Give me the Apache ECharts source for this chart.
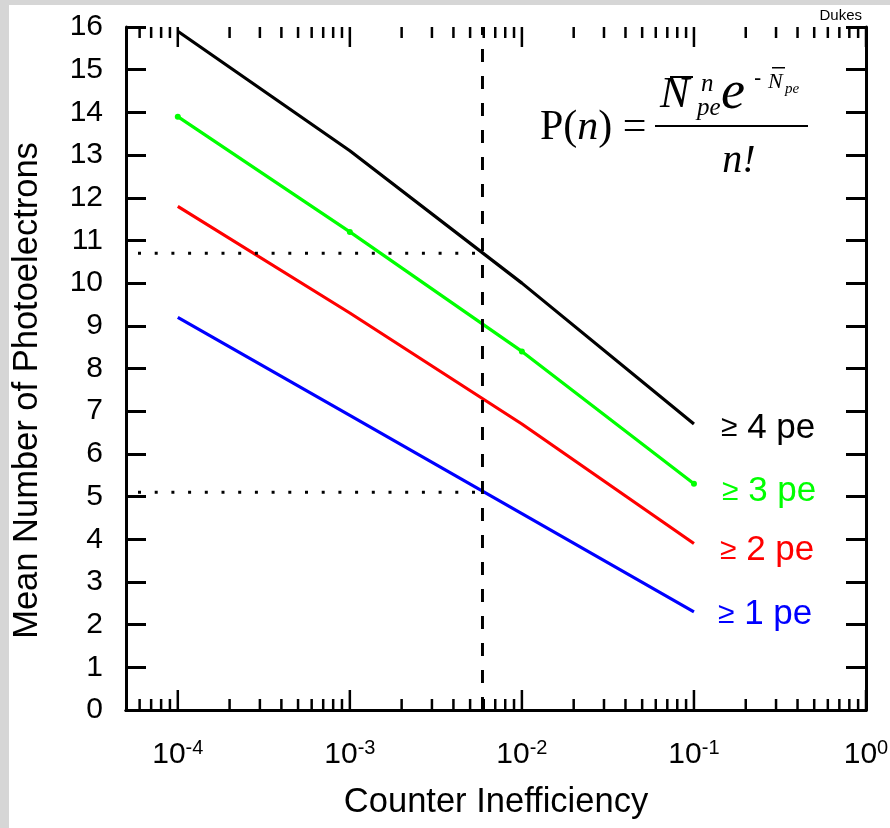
<!DOCTYPE html>
<html><head><meta charset="utf-8">
<script src="https://cdn.jsdelivr.net/npm/echarts@6/dist/echarts.min.js"></script>
<style>
html,body{margin:0;padding:0;background:#d6d6d6;width:890px;height:828px;overflow:hidden}
#c{position:absolute;left:9px;top:5px;width:881px;height:823px;background:#fff}
</style></head><body><div id="c"></div>
<script>
// ---- data ----
const xMin = 5.0e-5;
const xMax = 1;
const xTickValues = [1e-4, 1e-3, 1e-2, 1e-1, 1];
const xTickExponents = ['-4', '-3', '-2', '-1', '0'];
const xMinorTicks = [6e-5, 7e-5, 8e-5, 9e-5,
  2e-4, 3e-4, 4e-4, 5e-4, 6e-4, 7e-4, 8e-4, 9e-4,
  2e-3, 3e-3, 4e-3, 5e-3, 6e-3, 7e-3, 8e-3, 9e-3,
  2e-2, 3e-2, 4e-2, 5e-2, 6e-2, 7e-2, 8e-2, 9e-2,
  2e-1, 3e-1, 4e-1, 5e-1, 6e-1, 7e-1, 8e-1, 9e-1];
const yMin = 0, yMax = 16, yStep = 1;
const inefficiency = [1e-4, 1e-3, 1e-2, 1e-1];
const pe4 = [15.9, 13.1, 10.0, 6.7];
const pe3 = [13.9, 11.2, 8.4, 5.3];
const pe2 = [11.8, 9.3, 6.7, 3.9];
const pe1 = [9.2, 6.9, 4.6, 2.3];
const seriesLabels = ['4 pe', '3 pe', '2 pe', '1 pe'];
const cutInefficiency = 0.0059;
const cutLevel4 = 10.7;
const cutLevel1 = 5.1;

const OX = 9, OY = 5; // chart panel offset in page
const sans = 'Liberation Sans, Arial, sans-serif';
const serif = 'Liberation Serif, Times New Roman, serif';

function pairs(xs, ys) { return xs.map((x, i) => [x, ys[i]]); }

const chart = echarts.init(document.getElementById('c'), null, {renderer: 'canvas'});

const axisLineStyle = {color: '#000', width: 3};

function expLabel(v) {
  let idx = 0, best = 1e9;
  xTickValues.forEach((t, i) => { const d = Math.abs(Math.log10(t) - Math.log10(v)); if (d < best) { best = d; idx = i; } });
  return '{b|10}{s|' + xTickExponents[idx] + '}';
}

function lineSeries(name, ys, color, offset, withSymbol) {
  return {
    type: 'line', name: name, xAxisIndex: 0, yAxisIndex: 0,
    data: pairs(inefficiency, ys),
    showSymbol: !!withSymbol, symbol: 'circle', symbolSize: 6,
    itemStyle: {color: color},
    lineStyle: {color: color, width: 3.2},
    silent: true, z: 3,
    endLabel: {
      show: true, distance: 0, offset: offset,
      formatter: '{g|≥}{t| ' + name + '}',
      rich: {
        g: {fontFamily: sans, fontSize: 30, color: color},
        t: {fontFamily: sans, fontSize: 35, color: color}
      }
    }
  };
}

function tickSeries(values, len) {
  return {
    type: 'custom', xAxisIndex: 0, yAxisIndex: 0, silent: true, clip: false, z: 5,
    data: values.map(v => [v, yMin]),
    renderItem: function (params, api) {
      const v = api.value(0);
      const b = api.coord([v, yMin]);
      const t = api.coord([v, yMax]);
      const st = {stroke: '#000', lineWidth: 2.5};
      return {type: 'group', children: [
        {type: 'line', shape: {x1: b[0], y1: b[1], x2: b[0], y2: b[1] - len}, style: st},
        {type: 'line', shape: {x1: t[0], y1: t[1], x2: t[0], y2: t[1] + len}, style: st}
      ]};
    }
  };
}

const option = {
  animation: false,
  backgroundColor: '#fff',
  grid: {left: 126 - OX, top: 27 - OY, right: 890 - 866, bottom: 828 - 710, outerBoundsMode: 'none', containLabel: false},
  xAxis: [
    {
      type: 'log', logBase: 10, position: 'bottom', min: xMin, max: xMax,
      name: 'Counter Inefficiency', nameLocation: 'middle', nameGap: 75,
      nameTextStyle: {fontFamily: sans, fontSize: 34.5, color: '#000'},
      axisLine: {show: true, lineStyle: axisLineStyle},
      axisTick: {show: false},
      minorTick: {show: false},
      splitLine: {show: false},
      axisLabel: {
        show: true, customValues: xTickValues, margin: 28, formatter: expLabel,
        rich: {
          b: {fontFamily: sans, fontSize: 30, color: '#000', lineHeight: 34},
          s: {fontFamily: sans, fontSize: 20, color: '#000', lineHeight: 20, verticalAlign: 'top'}
        }
      }
    },
    {
      type: 'log', logBase: 10, position: 'top', min: xMin, max: xMax,
      axisLine: {show: true, lineStyle: axisLineStyle},
      axisTick: {show: false}, axisLabel: {show: false}, splitLine: {show: false}
    }
  ],
  yAxis: [
    {
      type: 'value', position: 'left', min: yMin, max: yMax, interval: yStep,
      name: 'Mean Number of Photoelectrons', nameLocation: 'middle', nameGap: 81,
      nameTextStyle: {fontFamily: sans, fontSize: 34.5, color: '#000', padding: [0, 44, 0, 0]},
      axisLine: {show: true, lineStyle: axisLineStyle},
      axisTick: {show: true, inside: true, length: 20, lineStyle: {color: '#000', width: 3}},
      axisLabel: {fontFamily: sans, fontSize: 30, color: '#000', margin: 23},
      splitLine: {show: false}
    },
    {
      type: 'value', position: 'right', min: yMin, max: yMax, interval: yStep,
      axisLine: {show: true, lineStyle: axisLineStyle},
      axisTick: {show: true, inside: true, length: 20, lineStyle: {color: '#000', width: 3}},
      axisLabel: {show: false}, splitLine: {show: false}
    }
  ],
  series: [
    lineSeries(seriesLabels[0], pe4, '#000000', [27, 4], false),
    lineSeries(seriesLabels[1], pe3, '#00ff00', [28, 8], true),
    lineSeries(seriesLabels[2], pe2, '#ff0000', [26, 7], false),
    lineSeries(seriesLabels[3], pe1, '#0000ff', [24, 3], false),
    {
      type: 'line', name: 'cut', xAxisIndex: 0, yAxisIndex: 0, silent: true, showSymbol: false,
      data: [[cutInefficiency, yMin], [cutInefficiency, yMax]],
      lineStyle: {color: '#000', width: 3, type: [13, 14]}
    },
    {
      type: 'line', name: 'level4', xAxisIndex: 0, yAxisIndex: 0, silent: true, showSymbol: false,
      data: [[xMin, cutLevel4], [cutInefficiency, cutLevel4]],
      lineStyle: {color: '#000', width: 3, type: [3, 13.7], dashOffset: -12}
    },
    {
      type: 'line', name: 'level1', xAxisIndex: 0, yAxisIndex: 0, silent: true, showSymbol: false,
      data: [[xMin, cutLevel1], [cutInefficiency, cutLevel1]],
      lineStyle: {color: '#000', width: 3, type: [3, 13.7], dashOffset: -12}
    },
    tickSeries(xTickValues, 20),
    tickSeries(xMinorTicks, 11)
  ],
  graphic: [
    {type: 'text', x: 862 - OX, y: 8 - OY, style: {text: 'Dukes', fontFamily: sans, fontSize: 15, fill: '#000', align: 'right', verticalAlign: 'top'}},
    // Formula P(n) = N^n_pe e^{-N_pe} / n!
    {type: 'text', x: 540 - OX, y: 128 - OY, style: {
      text: '{r|P(}{i|n}{r|) =}', verticalAlign: 'middle', align: 'left',
      rich: {r: {fontFamily: serif, fontSize: 42, fill: '#000'}, i: {fontFamily: serif, fontStyle: 'italic', fontSize: 42, fill: '#000'}}
    }},
    {type: 'rect', shape: {x: 655 - OX, y: 125 - OY, width: 153, height: 2}, style: {fill: '#000'}},
    {type: 'text', x: 739 - OX, y: 161 - OY, style: {text: 'n!', fontFamily: serif, fontStyle: 'italic', fontSize: 40, fill: '#000', align: 'center', verticalAlign: 'middle'}},
    {type: 'text', x: 660 - OX, y: 117 - OY, style: {text: 'N', fontFamily: serif, fontStyle: 'italic', fontSize: 44, fill: '#000', verticalAlign: 'bottom'}},
    {type: 'rect', shape: {x: 670 - OX, y: 76 - OY, width: 23, height: 2}, style: {fill: '#000'}},
    {type: 'text', x: 701 - OX, y: 84 - OY, style: {text: 'n', fontFamily: serif, fontStyle: 'italic', fontSize: 25, fill: '#000', verticalAlign: 'middle'}},
    {type: 'text', x: 697 - OX, y: 108 - OY, style: {text: 'pe', fontFamily: serif, fontStyle: 'italic', fontSize: 25, fill: '#000', verticalAlign: 'middle'}},
    {type: 'text', x: 721 - OX, y: 121 - OY, style: {text: 'e', fontFamily: serif, fontStyle: 'italic', fontSize: 54, fill: '#000', verticalAlign: 'bottom'}},
    {type: 'text', x: 754 - OX, y: 79 - OY, style: {text: '-', fontFamily: sans, fontSize: 22, fill: '#000', verticalAlign: 'middle'}},
    {type: 'text', x: 768 - OX, y: 82 - OY, style: {text: 'N', fontFamily: serif, fontStyle: 'italic', fontSize: 22, fill: '#000', verticalAlign: 'middle'}},
    {type: 'rect', shape: {x: 772 - OX, y: 67 - OY, width: 13, height: 1.5}, style: {fill: '#000'}},
    {type: 'text', x: 785 - OX, y: 89 - OY, style: {text: 'pe', fontFamily: serif, fontStyle: 'italic', fontSize: 15, fill: '#000', verticalAlign: 'middle'}}
  ]
};
chart.setOption(option);
</script></body></html>
